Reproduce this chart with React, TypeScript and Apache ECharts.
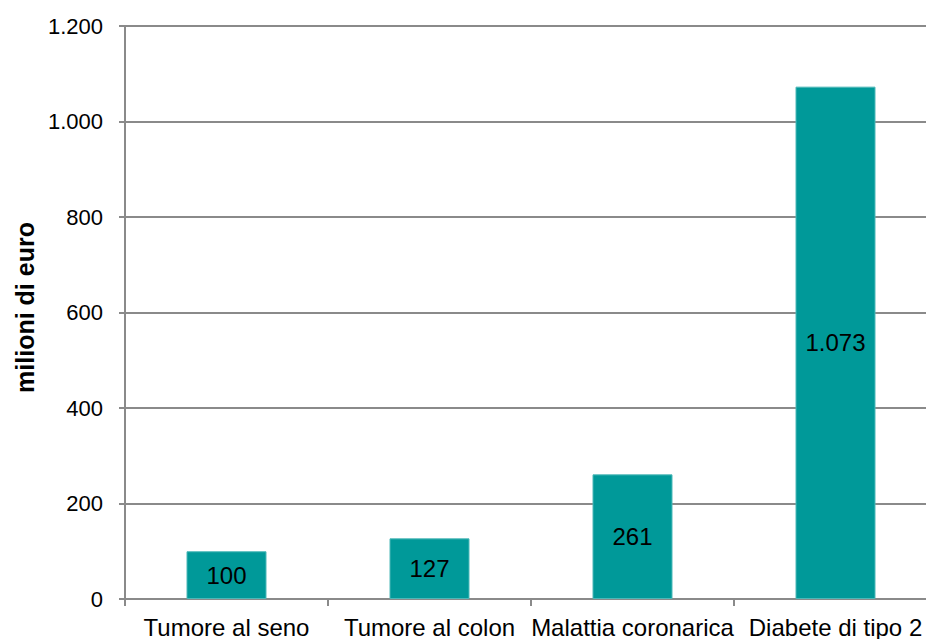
import React, { useEffect, useRef } from "react";
import * as echarts from "echarts";

const categories = ["Tumore al seno", "Tumore al colon", "Malattia coronarica", "Diabete di tipo 2"];
const values = [100, 127, 261, 1073];
const yAxisName = "milioni di euro";

const fmt = (v: number) => String(v).replace(/\B(?=(\d{3})+(?!\d))/g, ".");

export default function App() {
  const ref = useRef<HTMLDivElement>(null);
  useEffect(() => {
    if (!ref.current) return;
    const chart = echarts.init(ref.current, undefined, { renderer: "svg" });
    const gray = "#8a8a8a";
    chart.setOption({
      animation: false,
      backgroundColor: "#ffffff",
      textStyle: { fontFamily: "Liberation Sans, Arial, sans-serif" },
      grid: { left: 125, top: 26, bottom: 40, width: 812, containLabel: false, outerBoundsMode: "none" },
      xAxis: {
        type: "category",
        data: categories,
        axisLine: { show: true, lineStyle: { color: gray, width: 2 } },
        axisTick: { show: true, length: 7, alignWithLabel: false, lineStyle: { color: gray, width: 2 } },
        axisLabel: { color: "#000", fontSize: 24, margin: 16, interval: 0 },
      },
      yAxis: {
        type: "value",
        min: 0,
        max: 1200,
        interval: 200,
        name: yAxisName,
        nameLocation: "middle",
        nameGap: 70,
        nameRotate: 90,
        nameTextStyle: { color: "#000", fontSize: 25, fontWeight: "bold", padding: [0, 0, 0, 10] },
        axisLine: { show: true, lineStyle: { color: gray, width: 2 } },
        axisTick: { show: true, length: 6, lineStyle: { color: gray, width: 2 } },
        axisLabel: { color: "#000", fontSize: 22, margin: 22, formatter: (v: number) => fmt(v) },
        splitLine: { show: true, lineStyle: { color: gray, width: 2 } },
      },
      series: [
        {
          type: "bar",
          data: values,
          barWidth: 80,
          itemStyle: { color: "#009999", borderColor: "#4db8b8", borderWidth: 1 },
          label: {
            show: true,
            position: "inside",
            color: "#000",
            fontSize: 24,
            formatter: (p: any) => fmt(p.value),
          },
        },
      ],
    });
    return () => chart.dispose();
  }, []);
  return <div ref={ref} style={{ position: "fixed", left: 0, top: 0, width: 926, height: 639 }} />;
}
